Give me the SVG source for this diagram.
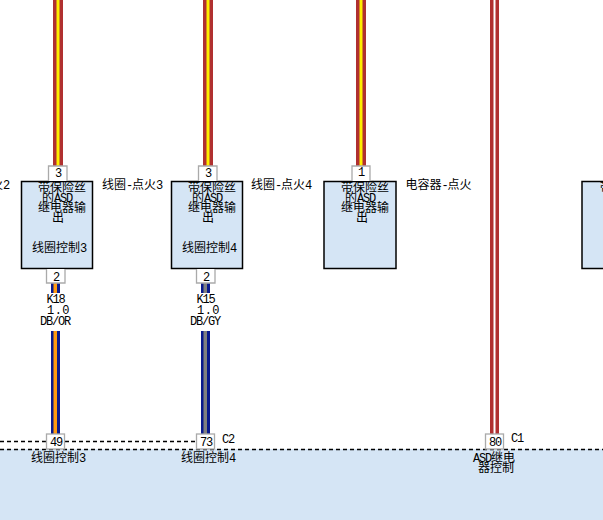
<svg xmlns="http://www.w3.org/2000/svg" width="603" height="520" viewBox="0 0 603 520">
<style>
text{font-family:"Noto Sans CJK SC","Liberation Sans",sans-serif;font-size:12px;fill:#000;text-anchor:middle}
.l{text-anchor:start}
.m,tspan{font-family:"Liberation Mono",monospace;font-size:12px;letter-spacing:-1.2px}
.w{letter-spacing:.4px}
.box{fill:#d5e5f5;stroke:#000;stroke-width:1.5}
.pin{fill:#fff;stroke:#aaa;stroke-width:1.3}
.dash{fill:none;stroke:#000;stroke-width:1.3;stroke-dasharray:4 3}
</style>
<rect id="module" x="0" y="449" width="603" height="71" fill="#d5e5f5"/>
<g id="connectors">
<rect x="53" y="0" width="10" height="166" fill="#b03030"/><rect x="56.500" y="0" width="3" height="166" fill="#ffee00"/>
<rect x="203" y="0" width="10" height="166" fill="#b03030"/><rect x="206.500" y="0" width="3" height="166" fill="#ffee00"/>
<rect x="356" y="0" width="10" height="166" fill="#b03030"/><rect x="359.500" y="0" width="3" height="166" fill="#ffee00"/>
<rect x="490" y="0" width="3.500" height="434" fill="#b03030"/><rect x="495.500" y="0" width="3.500" height="434" fill="#b03030"/>
<rect x="51" y="283" width="9" height="10" fill="#0a1a8c"/><rect x="53.500" y="283" width="3.500" height="10" fill="#ff9a10"/>
<rect x="51" y="331" width="9" height="103" fill="#0a1a8c"/><rect x="53.500" y="331" width="3.500" height="103" fill="#ff9a10"/>
<rect x="201" y="283" width="9" height="10" fill="#0a1a8c"/><rect x="203.500" y="283" width="3.500" height="10" fill="#808080"/>
<rect x="201" y="331" width="9" height="103" fill="#0a1a8c"/><rect x="203.500" y="331" width="3.500" height="103" fill="#808080"/>
<path class="dash" d="M0 441.500H46M65 441.500H196"/>
<path class="dash" d="M0 449.500H603"/>
</g>
<text class="l" x="-9" y="189">火<tspan>2</tspan></text>
<g id="n1"><rect class="box" x="21.500" y="181.500" width="71" height="87"/>
<path class="pin" d="M48.500 181V166H67V181"/><text class="m" x="58" y="177">3</text>
<text x="62" y="192">带保险丝</text><text x="57" y="202">的<tspan>ASD</tspan></text><text x="62" y="212">继电器输</text><text x="58" y="222">出</text><text x="59" y="252">线圈控制<tspan>3</tspan></text>
<path class="pin" d="M46.500 269V283H65V269"/><text class="m" x="56" y="281">2</text></g>
<text class="l" x="102" y="189">线圈<tspan>-</tspan>点火<tspan>3</tspan></text>
<g id="n2"><rect class="box" x="171.500" y="181.500" width="71" height="87"/>
<path class="pin" d="M198.500 181V166H217V181"/><text class="m" x="208" y="177">3</text>
<text x="212" y="192">带保险丝</text><text x="207" y="202">的<tspan>ASD</tspan></text><text x="212" y="212">继电器输</text><text x="208" y="222">出</text><text x="209" y="252">线圈控制<tspan>4</tspan></text>
<path class="pin" d="M196.500 269V283H215V269"/><text class="m" x="206" y="281">2</text></g>
<text class="l" x="251" y="189">线圈<tspan>-</tspan>点火<tspan>4</tspan></text>
<g id="n3"><rect class="box" x="324" y="181.500" width="72" height="87"/>
<path class="pin" d="M352 181V166H370V181"/><text class="m" x="361" y="176">1</text>
<text x="365" y="192">带保险丝</text><text x="360" y="202">的<tspan>ASD</tspan></text><text x="365" y="212">继电器输</text><text x="362" y="222">出</text></g>
<text class="l" x="405.500" y="188.500">电容器<tspan>-</tspan>点火</text>
<g id="n4"><rect class="box" x="582" y="181.500" width="30" height="87"/><text class="l" x="600" y="192">带保险丝</text></g>
<g id="w1"><text class="m" x="55.500" y="303">K18</text><text class="m w" x="58.500" y="314">1.0</text><text class="m" x="55" y="325">DB/OR</text></g>
<g id="w2"><text class="m" x="205.500" y="303">K15</text><text class="m w" x="208.500" y="314">1.0</text><text class="m" x="205" y="325">DB/GY</text></g>
<g id="p49"><rect class="pin" x="46.500" y="434" width="18" height="15"/><text class="m" x="56" y="446">49</text><text x="58" y="462">线圈控制<tspan>3</tspan></text></g>
<g id="p73"><rect class="pin" x="196.500" y="434" width="18" height="15"/><text class="m" x="206" y="446">73</text><text x="208" y="462">线圈控制<tspan>4</tspan></text><text class="m" x="228" y="443">C2</text></g>
<g id="p80"><rect class="pin" x="485.500" y="434" width="18" height="15"/><text class="m" x="495" y="446">80</text><text class="m" x="517" y="442">C1</text><text x="494" y="462"><tspan>ASD</tspan>继电</text><text x="496" y="472">器控制</text></g>
</svg>
